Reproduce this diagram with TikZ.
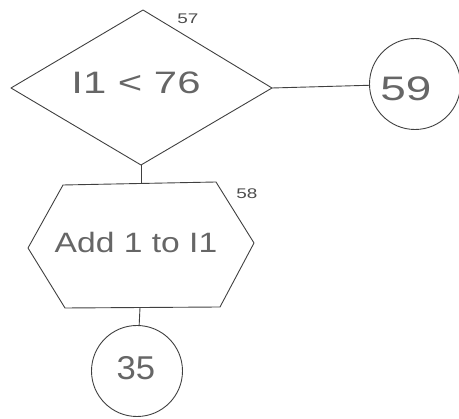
\documentclass[tikz,border=0pt]{standalone}
\usepackage{fontspec}
\setmainfont{Liberation Sans}
\newfontfamily\handwide[FakeStretch=1.35]{Liberation Sans}
\newfontfamily\handmid[FakeStretch=1.2]{Liberation Sans}
\newfontfamily\handnar[FakeStretch=1.05]{Liberation Sans}
\begin{document}
\begin{tikzpicture}[x=1pt,y=-1pt,
  ln/.style={draw=black!75,line width=0.9pt,line join=round},
  lbl/.style={text=black!60,inner sep=0pt},
  small/.style={lbl,text=black!70,font=\handwide\fontsize{14}{14}\selectfont},
  circ/.style={ln,circle,minimum size=91pt,inner sep=0pt}]
\useasboundingbox (0,0) rectangle (459,419);
% diamond 57
\coordinate (dT) at (143,10);
\coordinate (dL) at (11,88);
\coordinate (dR) at (272,88);
\coordinate (dB) at (141,165);
\draw[ln] (dT) -- (dR) -- (dB) -- (dL) -- cycle;
\node[lbl,font=\handwide\fontsize{31}{31}\selectfont] (dtext) at (136,83) {I1 < 76};
\node[small] (n57) at (188,19) {57};
% circle 59
\node[circ] (c59) at (415,84) {};
\node[lbl,font=\handwide\fontsize{34}{34}\selectfont] (t59) at (406,89) {59};
\draw[ln] (dR) -- (c59);
% hexagon 58
\coordinate (hTL) at (63,185);
\coordinate (hTR) at (216,182);
\coordinate (hR) at (254,243);
\coordinate (hBR) at (220,307);
\coordinate (hBL) at (65,308);
\coordinate (hL) at (28,248);
\draw[ln] (hTL) -- (hTR) -- (hR) -- (hBR) -- (hBL) -- (hL) -- cycle;
\coordinate (hTop) at (141,183.5);
\coordinate (hBot) at (140,307.5);
\draw[ln] (dB) -- (hTop);
\node[lbl,font=\handmid\fontsize{28}{28}\selectfont] (htext) at (136,242) {Add\ 1 to I1};
\node[small] (n58) at (247,194) {58};
% circle 35
\node[circ] (c35) at (137,371) {};
\node[lbl,font=\handnar\fontsize{33}{33}\selectfont] (t35) at (136,368) {35};
\draw[ln] (hBot) -- (c35);
\end{tikzpicture}
\end{document}
